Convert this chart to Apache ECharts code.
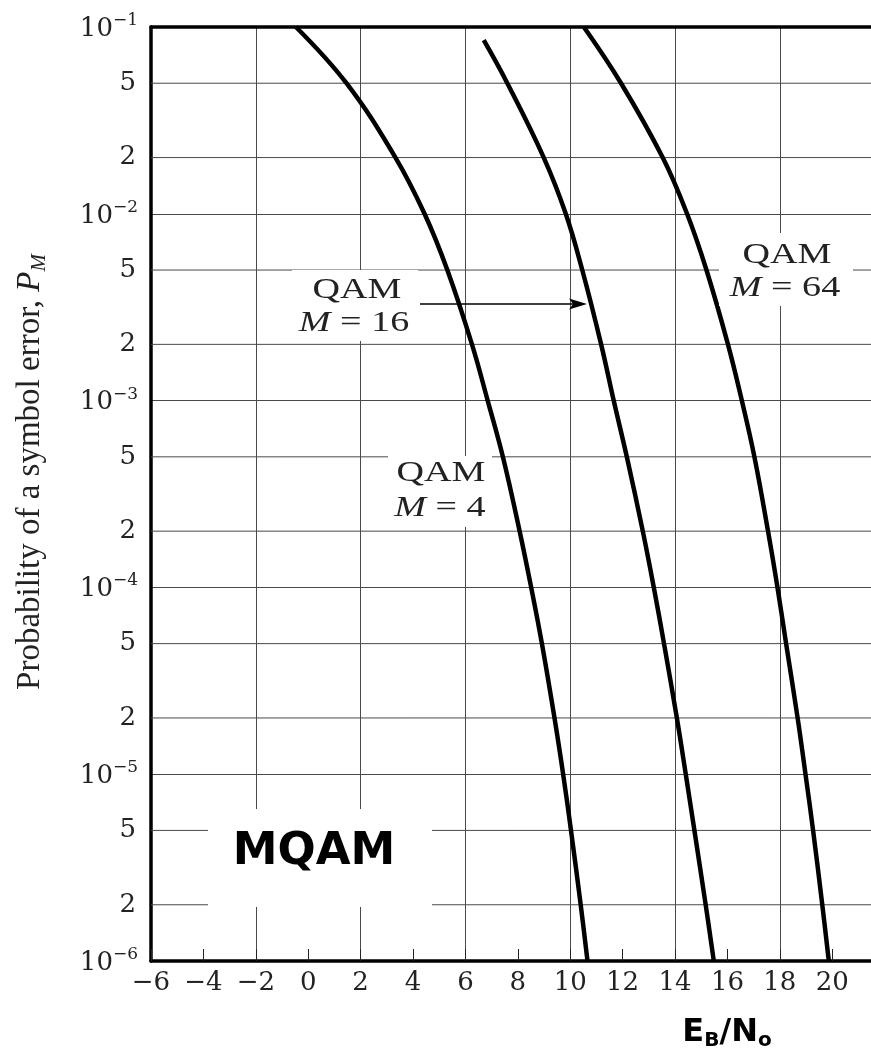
<!DOCTYPE html>
<html><head><meta charset="utf-8">
<script src="https://cdn.jsdelivr.net/npm/echarts@6/dist/echarts.min.js"></script>
<style>html,body{margin:0;padding:0;background:#fff}#c{width:871px;height:1055px}</style>
</head><body><div id="c"></div>
<script>
// ---- data (Eb/N0 in dB, probability of symbol error) ----
const ebnoM4  = [-0.47, 1.46, 3.33, 4.44, 5.31, 6.25, 6.85, 7.43, 8.07, 8.51, 8.92, 9.40, 9.73, 10.03, 10.40, 10.66];
const pM4     = [1e-1, 5e-2, 2e-2, 1e-2, 5e-3, 2e-3, 1e-3, 5e-4, 2e-4, 1e-4, 5e-5, 2e-5, 1e-5, 5e-6, 2e-6, 1e-6];
const ebnoM16 = [6.70, 7.60, 8.99, 9.83, 10.46, 11.18, 11.66, 12.16, 12.77, 13.19, 13.58, 14.07, 14.41, 14.74, 15.17, 15.48];
const pM16    = [8.5e-2, 5e-2, 2e-2, 1e-2, 5e-3, 2e-3, 1e-3, 5e-4, 2e-4, 1e-4, 5e-5, 2e-5, 1e-5, 5e-6, 2e-6, 1e-6];
const ebnoM64 = [10.52, 11.94, 13.53, 14.46, 15.20, 16.02, 16.55, 17.03, 17.55, 17.91, 18.24, 18.68, 18.98, 19.27, 19.62, 19.87];
const pM64    = [1e-1, 5e-2, 2e-2, 1e-2, 5e-3, 2e-3, 1e-3, 5e-4, 2e-4, 1e-4, 5e-5, 2e-5, 1e-5, 5e-6, 2e-6, 1e-6];

// minor (2 and 5) grid rows of the log axis and their labels
const minorGridValues = [5e-2, 2e-2, 5e-3, 2e-3, 5e-4, 2e-4, 5e-5, 2e-5, 5e-6, 2e-6];
const minorGridLabels = ['5', '2', '5', '2', '5', '2', '5', '2', '5', '2'];
const xMin = -6, xMax = 21.48;   // plot continues past the right edge of the picture

const zip = (xs, ys) => xs.map((x, i) => [x, ys[i]]);

const GRID = '#4a4a4a';
const serifTick = 'DejaVu Serif';

const chart = echarts.init(document.getElementById('c'));

const curve = (name, xs, ys) => ({
  name, type: 'line', data: zip(xs, ys), showSymbol: false, smooth: 0.4,
  xAxisIndex: 0, yAxisIndex: 0, animation: false, silent: true,
  lineStyle: { color: '#000', width: 4.5 }, z: 5
});

const minorRows = minorGridValues.map((v, i) => ({
  type: 'line', xAxisIndex: 0, yAxisIndex: 0, animation: false, silent: true,
  showSymbol: true, symbol: 'circle', symbolSize: 0.01, z: 1,
  itemStyle: { color: 'rgba(0,0,0,0)', borderWidth: 0 },
  lineStyle: { color: GRID, width: 1 },
  label: { show: false },
  data: [
    { value: [xMin, v], label: { show: true, position: 'left', distance: 15, formatter: minorGridLabels[i],
        fontFamily: serifTick, fontSize: 26, color: '#222' } },
    [xMax, v]
  ]
}));

const option = {
  backgroundColor: '#fff',
  animation: false,
  grid: { left: 151, top: 27, right: 0, bottom: 94, containLabel: false },
  xAxis: [
    {
      type: 'value', min: xMin, max: xMax, interval: 2, position: 'bottom',
      axisLine: { show: true, onZero: false, lineStyle: { color: '#000', width: 3.5 } },
      axisTick: { show: true, inside: true, length: 12, lineStyle: { color: '#222', width: 1 } },
      axisLabel: { show: true, margin: 9, fontFamily: serifTick, fontSize: 26, color: '#222', showMaxLabel: false,
        formatter: v => (v > 20 ? '' : (v < 0 ? '\u2212' + (-v) : String(v))) },
      splitLine: { show: false }
    },
    {
      type: 'value', min: xMin, max: xMax, interval: 4, position: 'top',
      axisLine: { show: true, onZero: false, lineStyle: { color: '#000', width: 3.5 } },
      axisTick: { show: false }, axisLabel: { show: false },
      splitLine: { show: true, lineStyle: { color: GRID, width: 1 } }
    }
  ],
  yAxis: [{
    type: 'log', logBase: 10, min: 1e-6, max: 1e-1,
    axisLine: { show: true, onZero: false, lineStyle: { color: '#000', width: 3.5 } },
    axisTick: { show: false },
    splitLine: { show: true, lineStyle: { color: GRID, width: 1 } },
    minorSplitLine: { show: false },
    axisLabel: {
      margin: 13,
      formatter: v => { const e = Math.round(Math.log10(v)); return '{a|10}{s|\u2212' + (-e) + '}'; },
      rich: {
        a: { fontFamily: serifTick, fontSize: 26, color: '#222', lineHeight: 30, verticalAlign: 'bottom' },
        s: { fontFamily: serifTick, fontSize: 17, color: '#222', lineHeight: 30, verticalAlign: 'top' }
      }
    }
  }],
  series: [
    ...minorRows,
    curve('QAM M=4', ebnoM4, pM4),
    curve('QAM M=16', ebnoM16, pM16),
    curve('QAM M=64', ebnoM64, pM64)
  ],
  graphic: [
    // white label boxes
    { type: 'rect', z: 100, shape: { x: 292, y: 270, width: 126, height: 71 }, style: { fill: '#fff' } },
    { type: 'rect', z: 100, shape: { x: 388, y: 456, width: 104, height: 71 }, style: { fill: '#fff' } },
    { type: 'rect', z: 100, shape: { x: 719, y: 233, width: 134, height: 73 }, style: { fill: '#fff' } },
    { type: 'rect', z: 100, shape: { x: 208, y: 809, width: 224, height: 98 }, style: { fill: '#fff' } },
    // arrow
    { type: 'line', z: 101, shape: { x1: 420, y1: 304, x2: 575, y2: 304 }, style: { stroke: '#000', lineWidth: 1.3 } },
    { type: 'polygon', z: 101, shape: { points: [[587, 304], [569, 298.5], [573, 304], [569, 309.5]] }, style: { fill: '#000' } },
    // annotation texts
    ...[
      ['QAM', 357, 290], ['{i|M} = 16', 354, 323],
      ['QAM', 441, 473], ['{i|M} = 4', 440, 508],
      ['QAM', 787, 255], ['{i|M} = 64', 785, 288]
    ].map(([t, x, y]) => ({
      type: 'text', z: 102, x, y, scaleX: 1.27,
      style: { text: t, fontFamily: 'Liberation Serif', fontSize: 30, fill: '#222',
               align: 'center', verticalAlign: 'middle', textAlign: 'center', textVerticalAlign: 'middle',
               rich: { i: { fontFamily: 'Liberation Serif', fontSize: 30, fontStyle: 'italic', fill: '#222' } } }
    })),
    { type: 'text', z: 102, x: 314, y: 852,
      style: { text: 'MQAM', fontFamily: 'DejaVu Sans', fontWeight: 'bold', fontSize: 45, fill: '#000',
               align: 'center', verticalAlign: 'middle', textAlign: 'center', textVerticalAlign: 'middle' } },
    // y axis title
    { type: 'text', z: 102, x: 30, y: 472, rotation: Math.PI / 2,
      style: { text: '{r|Probability of a symbol error, }{i|P}{s|M}',
               align: 'center', verticalAlign: 'middle', textAlign: 'center', textVerticalAlign: 'middle',
               rich: {
                 r: { fontFamily: 'Liberation Serif', fontSize: 33, fill: '#222', lineHeight: 40, verticalAlign: 'middle' },
                 i: { fontFamily: 'Liberation Serif', fontSize: 33, fontStyle: 'italic', fill: '#222', lineHeight: 40, verticalAlign: 'middle' },
                 s: { fontFamily: 'Liberation Serif', fontSize: 21, fontStyle: 'italic', fill: '#222', lineHeight: 21, verticalAlign: 'bottom' }
               } } },
    // x axis title
    { type: 'text', z: 102, x: 727, y: 1033,
      style: { text: '{a|E}{s|B}{a|/N}{s|o}',
               align: 'center', verticalAlign: 'middle', textAlign: 'center', textVerticalAlign: 'middle',
               rich: {
                 a: { fontFamily: 'DejaVu Sans', fontWeight: 'bold', fontSize: 32, fill: '#000', lineHeight: 36, verticalAlign: 'middle' },
                 s: { fontFamily: 'DejaVu Sans', fontWeight: 'bold', fontSize: 20, fill: '#000', lineHeight: 20, verticalAlign: 'bottom' }
               } } }
  ]
};
chart.setOption(option);
</script>
</body></html>
